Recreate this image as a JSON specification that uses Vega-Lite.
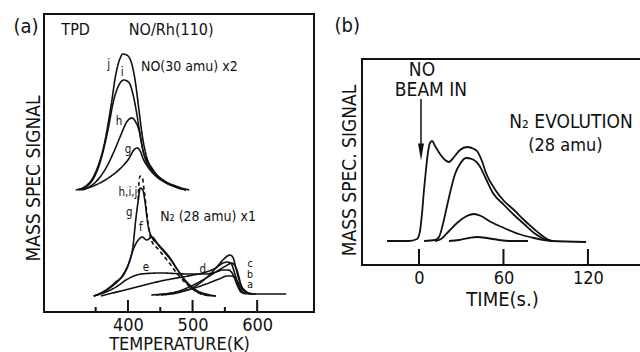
{
  "$schema": "https://vega.github.io/schema/vega-lite/v6.json",
  "background": "white",
  "padding": {"left": 12, "top": 13, "right": 0, "bottom": 0},
  "spacing": 19,
  "bounds": "full",
  "config": {
    "font": "DejaVu Sans Condensed",
    "view": {"stroke": "#111", "strokeWidth": 2},
    "axis": {"domain": false, "ticks": false, "grid": false, "labelColor": "#111", "titleColor": "#111", "titleFontWeight": "normal", "labelFont": "DejaVu Sans Condensed", "titleFont": "DejaVu Sans Condensed"},
    "text": {"color": "#111", "font": "DejaVu Sans Condensed"}
  },
  "hconcat": [
    {
      "width": 270,
      "height": 298,
      "encoding": {
        "x": {"field": "T", "type": "quantitative", "scale": {"domain": [270, 688], "nice": false, "zero": false},
          "axis": {"values": [400, 500, 600], "title": "TEMPERATURE(K)", "labelFontSize": 18, "labelPadding": 4, "titleFontSize": 18, "titlePadding": 1}},
        "y": {"field": "S", "type": "quantitative", "scale": {"domain": [0, 298], "nice": false, "zero": false},
          "axis": {"labels": false, "title": "MASS SPEC SIGNAL", "titleFontSize": 19, "titleX": -11, "titleY": 164, "titleAngle": 270, "titleBaseline": "middle"}}
      },
      "layer": [
        {
          "data": {"values": [
            {"c":"NOj","s":"solid","T":319,"S":122},{"c":"NOj","s":"solid","T":335,"S":126},{"c":"NOj","s":"solid","T":350,"S":140},{"c":"NOj","s":"solid","T":363,"S":167},{"c":"NOj","s":"solid","T":374,"S":207},{"c":"NOj","s":"solid","T":381,"S":237},{"c":"NOj","s":"solid","T":388,"S":254},{"c":"NOj","s":"solid","T":392,"S":258},{"c":"NOj","s":"solid","T":398,"S":257},{"c":"NOj","s":"solid","T":405,"S":250},{"c":"NOj","s":"solid","T":411,"S":232},{"c":"NOj","s":"solid","T":417,"S":202},{"c":"NOj","s":"solid","T":422,"S":177},{"c":"NOj","s":"solid","T":428,"S":157},{"c":"NOj","s":"solid","T":439,"S":142},{"c":"NOj","s":"solid","T":454,"S":132},{"c":"NOj","s":"solid","T":474,"S":126},{"c":"NOj","s":"solid","T":495,"S":122},
            {"c":"NOi","s":"solid","T":324,"S":122},{"c":"NOi","s":"solid","T":343,"S":130},{"c":"NOi","s":"solid","T":358,"S":152},{"c":"NOi","s":"solid","T":369,"S":182},{"c":"NOi","s":"solid","T":378,"S":212},{"c":"NOi","s":"solid","T":386,"S":227},{"c":"NOi","s":"solid","T":394,"S":232},{"c":"NOi","s":"solid","T":402,"S":229},{"c":"NOi","s":"solid","T":408,"S":217},{"c":"NOi","s":"solid","T":414,"S":197},{"c":"NOi","s":"solid","T":420,"S":172},{"c":"NOi","s":"solid","T":426,"S":155},{"c":"NOi","s":"solid","T":439,"S":140},{"c":"NOi","s":"solid","T":454,"S":131},{"c":"NOi","s":"solid","T":474,"S":125},{"c":"NOi","s":"solid","T":490,"S":122},
            {"c":"NOh","s":"solid","T":330,"S":122},{"c":"NOh","s":"solid","T":350,"S":130},{"c":"NOh","s":"solid","T":366,"S":144},{"c":"NOh","s":"solid","T":378,"S":160},{"c":"NOh","s":"solid","T":389,"S":177},{"c":"NOh","s":"solid","T":398,"S":190},{"c":"NOh","s":"solid","T":406,"S":194},{"c":"NOh","s":"solid","T":412,"S":190},{"c":"NOh","s":"solid","T":419,"S":177},{"c":"NOh","s":"solid","T":423,"S":162},{"c":"NOh","s":"solid","T":431,"S":150},{"c":"NOh","s":"solid","T":443,"S":138},{"c":"NOh","s":"solid","T":459,"S":130},{"c":"NOh","s":"solid","T":482,"S":123},
            {"c":"NOg","s":"solid","T":327,"S":122},{"c":"NOg","s":"solid","T":350,"S":127},{"c":"NOg","s":"solid","T":374,"S":136},{"c":"NOg","s":"solid","T":389,"S":144},{"c":"NOg","s":"solid","T":402,"S":154},{"c":"NOg","s":"solid","T":409,"S":162},{"c":"NOg","s":"solid","T":414,"S":164},{"c":"NOg","s":"solid","T":419,"S":161},{"c":"NOg","s":"solid","T":423,"S":154},{"c":"NOg","s":"solid","T":431,"S":145},{"c":"NOg","s":"solid","T":443,"S":136},{"c":"NOg","s":"solid","T":464,"S":128},{"c":"NOg","s":"solid","T":490,"S":122},
            {"c":"N2g","s":"solid","T":347,"S":16},{"c":"N2g","s":"solid","T":366,"S":22},{"c":"N2g","s":"solid","T":381,"S":30},{"c":"N2g","s":"solid","T":394,"S":38},{"c":"N2g","s":"solid","T":402,"S":50},{"c":"N2g","s":"solid","T":408,"S":67},{"c":"N2g","s":"solid","T":412,"S":92},{"c":"N2g","s":"solid","T":416,"S":112},{"c":"N2g","s":"solid","T":419,"S":124},{"c":"N2g","s":"solid","T":423,"S":122},{"c":"N2g","s":"solid","T":426,"S":112},{"c":"N2g","s":"solid","T":431,"S":87},{"c":"N2g","s":"solid","T":436,"S":76},{"c":"N2g","s":"solid","T":448,"S":67},{"c":"N2g","s":"solid","T":464,"S":55},{"c":"N2g","s":"solid","T":479,"S":40},{"c":"N2g","s":"solid","T":491,"S":29},{"c":"N2g","s":"solid","T":505,"S":21},{"c":"N2g","s":"solid","T":521,"S":17},{"c":"N2g","s":"solid","T":536,"S":16},
            {"c":"N2hij","s":"dashed","T":416,"S":112},{"c":"N2hij","s":"dashed","T":417,"S":130},{"c":"N2hij","s":"dashed","T":419,"S":136},{"c":"N2hij","s":"dashed","T":422,"S":135},{"c":"N2hij","s":"dashed","T":425,"S":122},{"c":"N2hij","s":"dashed","T":429,"S":100},{"c":"N2hij","s":"dashed","T":432,"S":84},{"c":"N2hij","s":"dashed","T":436,"S":72},{"c":"N2hij","s":"dashed","T":448,"S":62},{"c":"N2hij","s":"dashed","T":464,"S":49},{"c":"N2hij","s":"dashed","T":479,"S":36},{"c":"N2hij","s":"dashed","T":498,"S":24},{"c":"N2hij","s":"dashed","T":513,"S":18},{"c":"N2hij","s":"dashed","T":529,"S":16},
            {"c":"N2f","s":"solid","T":347,"S":16},{"c":"N2f","s":"solid","T":374,"S":25},{"c":"N2f","s":"solid","T":392,"S":37},{"c":"N2f","s":"solid","T":402,"S":50},{"c":"N2f","s":"solid","T":409,"S":64},{"c":"N2f","s":"solid","T":416,"S":72},{"c":"N2f","s":"solid","T":422,"S":75},{"c":"N2f","s":"solid","T":429,"S":72},{"c":"N2f","s":"solid","T":437,"S":75},{"c":"N2f","s":"solid","T":448,"S":66},{"c":"N2f","s":"solid","T":464,"S":54},{"c":"N2f","s":"solid","T":479,"S":40},{"c":"N2f","s":"solid","T":491,"S":30},{"c":"N2f","s":"solid","T":505,"S":22},{"c":"N2f","s":"solid","T":521,"S":18},{"c":"N2f","s":"solid","T":536,"S":16},
            {"c":"N2e","s":"solid","T":347,"S":16},{"c":"N2e","s":"solid","T":366,"S":20},{"c":"N2e","s":"solid","T":384,"S":26},{"c":"N2e","s":"solid","T":397,"S":32},{"c":"N2e","s":"solid","T":409,"S":36},{"c":"N2e","s":"solid","T":420,"S":38},{"c":"N2e","s":"solid","T":451,"S":39},{"c":"N2e","s":"solid","T":493,"S":38},{"c":"N2e","s":"solid","T":521,"S":38},{"c":"N2e","s":"solid","T":536,"S":40},{"c":"N2e","s":"solid","T":547,"S":42},{"c":"N2e","s":"solid","T":555,"S":42},{"c":"N2e","s":"solid","T":563,"S":37},{"c":"N2e","s":"solid","T":569,"S":27},{"c":"N2e","s":"solid","T":575,"S":20},{"c":"N2e","s":"solid","T":583,"S":18},
            {"c":"N2d","s":"solid","T":358,"S":16},{"c":"N2d","s":"solid","T":389,"S":21},{"c":"N2d","s":"solid","T":420,"S":26},{"c":"N2d","s":"solid","T":451,"S":31},{"c":"N2d","s":"solid","T":493,"S":36},{"c":"N2d","s":"solid","T":521,"S":40},{"c":"N2d","s":"solid","T":536,"S":44},{"c":"N2d","s":"solid","T":547,"S":49},{"c":"N2d","s":"solid","T":554,"S":50},{"c":"N2d","s":"solid","T":560,"S":48},{"c":"N2d","s":"solid","T":566,"S":37},{"c":"N2d","s":"solid","T":572,"S":25},{"c":"N2d","s":"solid","T":580,"S":19},{"c":"N2d","s":"solid","T":591,"S":18},
            {"c":"N2c","s":"solid","T":451,"S":17},{"c":"N2c","s":"solid","T":482,"S":20},{"c":"N2c","s":"solid","T":502,"S":25},{"c":"N2c","s":"solid","T":521,"S":34},{"c":"N2c","s":"solid","T":536,"S":44},{"c":"N2c","s":"solid","T":547,"S":52},{"c":"N2c","s":"solid","T":554,"S":56},{"c":"N2c","s":"solid","T":558,"S":57},{"c":"N2c","s":"solid","T":563,"S":54},{"c":"N2c","s":"solid","T":567,"S":44},{"c":"N2c","s":"solid","T":572,"S":32},{"c":"N2c","s":"solid","T":578,"S":23},{"c":"N2c","s":"solid","T":586,"S":19},{"c":"N2c","s":"solid","T":598,"S":18},
            {"c":"N2b","s":"solid","T":443,"S":17},{"c":"N2b","s":"solid","T":474,"S":20},{"c":"N2b","s":"solid","T":498,"S":26},{"c":"N2b","s":"solid","T":521,"S":34},{"c":"N2b","s":"solid","T":541,"S":42},{"c":"N2b","s":"solid","T":554,"S":47},{"c":"N2b","s":"solid","T":560,"S":49},{"c":"N2b","s":"solid","T":566,"S":46},{"c":"N2b","s":"solid","T":571,"S":37},{"c":"N2b","s":"solid","T":575,"S":27},{"c":"N2b","s":"solid","T":582,"S":21},{"c":"N2b","s":"solid","T":591,"S":18},
            {"c":"N2a","s":"solid","T":436,"S":17},{"c":"N2a","s":"solid","T":467,"S":19},{"c":"N2a","s":"solid","T":498,"S":23},{"c":"N2a","s":"solid","T":521,"S":28},{"c":"N2a","s":"solid","T":541,"S":33},{"c":"N2a","s":"solid","T":554,"S":36},{"c":"N2a","s":"solid","T":561,"S":36},{"c":"N2a","s":"solid","T":569,"S":31},{"c":"N2a","s":"solid","T":575,"S":24},{"c":"N2a","s":"solid","T":582,"S":20},{"c":"N2a","s":"solid","T":591,"S":18},{"c":"N2a","s":"solid","T":645,"S":18}
          ]},
          "mark": {"type": "line", "color": "#111", "strokeWidth": 1.6, "interpolate": "monotone"},
          "encoding": {
            "detail": {"field": "c", "type": "nominal"},
            "strokeDash": {"field": "s", "type": "nominal", "scale": {"domain": ["solid", "dashed"], "range": [[1, 0], [4, 3]]}, "legend": null}
          }
        },
        {
          "data": {"values": [{"T": 350, "S": 0, "S2": 5}, {"T": 400, "S": 0, "S2": 12}, {"T": 450, "S": 0, "S2": 5}, {"T": 500, "S": 0, "S2": 12}, {"T": 550, "S": 0, "S2": 5}, {"T": 600, "S": 0, "S2": 12}]},
          "mark": {"type": "rule", "color": "#111", "strokeWidth": 2},
          "encoding": {"y2": {"field": "S2"}}
        },
        {
          "data": {"values": [{"T": 319, "S": 282, "label": "TPD"}, {"T": 467, "S": 282, "label": "NO/Rh(110)"}]},
          "mark": {"type": "text", "fontSize": 16, "baseline": "middle", "align": "center", "color": "#111"},
          "encoding": {"text": {"field": "label"}}
        },
        {
          "data": {"values": [{"T": 495, "S": 245, "label": "NO(30 amu) x2"}, {"T": 524, "S": 95, "label": "N₂ (28 amu) x1"}]},
          "mark": {"type": "text", "fontSize": 14, "baseline": "middle", "align": "center", "color": "#111"},
          "encoding": {"text": {"field": "label"}}
        },
        {
          "data": {"values": [
            {"T": 370, "S": 247, "label": "j"}, {"T": 391, "S": 239, "label": "i"}, {"T": 386, "S": 190, "label": "h"}, {"T": 400, "S": 162, "label": "g"},
            {"T": 400, "S": 119, "label": "h,i,j"}, {"T": 402, "S": 99, "label": "g"}, {"T": 420, "S": 84, "label": "f"}, {"T": 428, "S": 44, "label": "e"},
            {"T": 516, "S": 42, "label": "d"}
          ]},
          "mark": {"type": "text", "fontSize": 11.5, "baseline": "middle", "align": "center", "color": "#111"},
          "encoding": {"text": {"field": "label"}}
        },
        {
          "data": {"values": [{"T": 589, "S": 48, "label": "c"}, {"T": 589, "S": 37.5, "label": "b"}, {"T": 589, "S": 27, "label": "a"}]},
          "mark": {"type": "text", "fontSize": 10.5, "baseline": "middle", "align": "center", "color": "#111"},
          "encoding": {"text": {"field": "label"}}
        },
        {
          "data": {"values": [{"T": 242, "S": 285, "label": "(a)"}]},
          "mark": {"type": "text", "fontSize": 20, "baseline": "middle", "align": "center", "color": "#111"},
          "encoding": {"text": {"field": "label"}}
        }
      ]
    },
    {
      "spacing": 6,
      "resolve": {"scale": {"x": "independent", "y": "independent"}},
      "vconcat": [
        {
          "width": 280,
          "height": 38,
          "view": {"stroke": null},
          "data": {"values": [{"t": -51, "S": 26, "label": "(b)"}]},
          "mark": {"type": "text", "fontSize": 20, "baseline": "middle", "align": "center", "color": "#111"},
          "encoding": {
            "x": {"field": "t", "type": "quantitative", "scale": {"domain": [-40.5, 158.4], "nice": false, "zero": false}, "axis": null},
            "y": {"field": "S", "type": "quantitative", "scale": {"domain": [0, 38], "nice": false, "zero": false}, "axis": null},
            "text": {"field": "label"}
          }
        },
        {
          "width": 280,
          "height": 206,
          "encoding": {
            "x": {"field": "t", "type": "quantitative", "scale": {"domain": [-40.5, 158.4], "nice": false, "zero": false},
              "axis": {"values": [0, 60, 120], "title": "TIME(s.)", "labelFontSize": 18, "labelPadding": 4, "titleFontSize": 20, "titlePadding": 2}},
            "y": {"field": "S", "type": "quantitative", "scale": {"domain": [0, 206], "nice": false, "zero": false},
              "axis": {"labels": false, "title": "MASS SPEC. SIGNAL", "titleFontSize": 19, "titleX": -13, "titleY": 111, "titleAngle": 270, "titleBaseline": "middle"}}
          },
          "layer": [
            {
              "data": {"values": [
                {"c":"A","t":-22.7,"S":24},{"c":"A","t":-7.1,"S":24},{"c":"A","t":-1.4,"S":26},{"c":"A","t":0.7,"S":34},{"c":"A","t":2.1,"S":51},{"c":"A","t":3.6,"S":76},{"c":"A","t":5.0,"S":96},{"c":"A","t":6.4,"S":113},{"c":"A","t":7.8,"S":122},{"c":"A","t":9.2,"S":124},{"c":"A","t":11.4,"S":119},{"c":"A","t":14.9,"S":111},{"c":"A","t":18.5,"S":105},{"c":"A","t":21.3,"S":103},{"c":"A","t":24.9,"S":108},{"c":"A","t":29.1,"S":115},{"c":"A","t":34.1,"S":118},{"c":"A","t":39.1,"S":116},{"c":"A","t":41.2,"S":114},{"c":"A","t":44.7,"S":104},{"c":"A","t":47.6,"S":92},{"c":"A","t":54.7,"S":74},{"c":"A","t":60.4,"S":64},{"c":"A","t":67.5,"S":55},{"c":"A","t":74.6,"S":45},{"c":"A","t":81.7,"S":36},{"c":"A","t":88.8,"S":28},{"c":"A","t":94.5,"S":24},{"c":"A","t":118.6,"S":23},
                {"c":"B","t":3.6,"S":24},{"c":"B","t":11.4,"S":25},{"c":"B","t":14.2,"S":28},{"c":"B","t":17.0,"S":41},{"c":"B","t":19.9,"S":59},{"c":"B","t":22.7,"S":76},{"c":"B","t":25.6,"S":91},{"c":"B","t":29.1,"S":101},{"c":"B","t":33.4,"S":107},{"c":"B","t":37.6,"S":106},{"c":"B","t":42.6,"S":100},{"c":"B","t":47.6,"S":86},{"c":"B","t":52.5,"S":72},{"c":"B","t":60.4,"S":60},{"c":"B","t":67.5,"S":50},{"c":"B","t":74.6,"S":41},{"c":"B","t":81.7,"S":32},{"c":"B","t":88.8,"S":26},{"c":"B","t":94.5,"S":24},
                {"c":"C","t":11.4,"S":24},{"c":"C","t":15.6,"S":26},{"c":"C","t":21.3,"S":34},{"c":"C","t":27.0,"S":42},{"c":"C","t":32.7,"S":48},{"c":"C","t":39.1,"S":51},{"c":"C","t":44.0,"S":49},{"c":"C","t":51.1,"S":43},{"c":"C","t":60.4,"S":37},{"c":"C","t":71.0,"S":31},{"c":"C","t":81.7,"S":27},{"c":"C","t":88.8,"S":25},{"c":"C","t":94.5,"S":24},
                {"c":"D","t":21.3,"S":24},{"c":"D","t":28.4,"S":25},{"c":"D","t":35.5,"S":27},{"c":"D","t":41.2,"S":28},{"c":"D","t":48.3,"S":27},{"c":"D","t":56.8,"S":25},{"c":"D","t":63.9,"S":24},{"c":"D","t":77.4,"S":24}
              ]},
              "mark": {"type": "line", "color": "#111", "strokeWidth": 1.8, "interpolate": "monotone"},
              "encoding": {"detail": {"field": "c", "type": "nominal"}}
            },
            {
              "data": {"values": [{"t": 0, "S": 0, "S2": 16}, {"t": 60, "S": 0, "S2": 16}, {"t": 120, "S": 0, "S2": 16}]},
              "mark": {"type": "rule", "color": "#111", "strokeWidth": 2},
              "encoding": {"y2": {"field": "S2"}}
            },
            {
              "data": {"values": [{"t": 1.4, "S": 166, "S2": 118}]},
              "mark": {"type": "rule", "color": "#111", "strokeWidth": 1.5},
              "encoding": {"y2": {"field": "S2"}}
            },
            {
              "data": {"values": [{"t": 1.4, "S": 113}]},
              "mark": {"type": "point", "shape": "M-0.35,-1L0.35,-1L0,1Z", "filled": true, "color": "#111", "size": 289, "opacity": 1},
              "encoding": {}
            },
            {
              "data": {"values": [{"t": 2.1, "S": 195, "label": "NO"}, {"t": 8.5, "S": 175, "label": "BEAM IN"}, {"t": 108, "S": 143, "label": "N₂ EVOLUTION"}]},
              "mark": {"type": "text", "fontSize": 19, "baseline": "middle", "align": "center", "color": "#111"},
              "encoding": {"text": {"field": "label"}}
            },
            {
              "data": {"values": [{"t": 104, "S": 119, "label": "(28 amu)"}]},
              "mark": {"type": "text", "fontSize": 18, "baseline": "middle", "align": "center", "color": "#111"},
              "encoding": {"text": {"field": "label"}}
            }
          ]
        }
      ]
    }
  ]
}
